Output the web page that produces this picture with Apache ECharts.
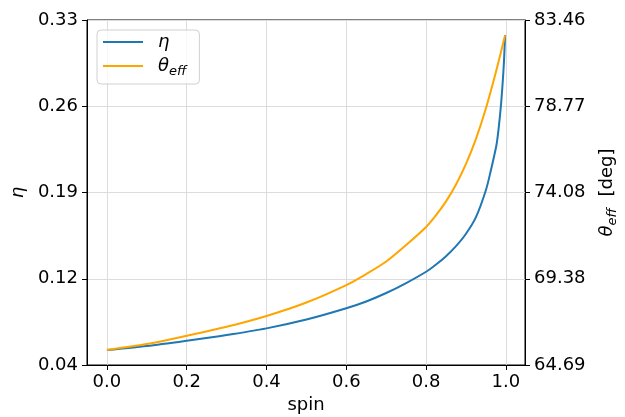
<!DOCTYPE html>
<html>
<head>
<meta charset="utf-8">
<script src="https://cdn.jsdelivr.net/npm/echarts@6/dist/echarts.min.js"></script>
<style>
html,body{margin:0;padding:0;background:#fff;}
#chart{width:625px;height:417px;}
</style>
</head>
<body>
<div id="chart"></div>
<script>
// ---- data ----
const spinEta = [0, 0.1, 0.2, 0.3, 0.4, 0.5, 0.6, 0.65, 0.7, 0.75, 0.8, 0.825, 0.85, 0.875, 0.9, 0.925, 0.95, 0.963, 0.97, 0.977, 0.982, 0.987, 0.991, 0.995, 0.998];
const eta = [0.0526, 0.0560, 0.0604, 0.0652, 0.0708, 0.0782, 0.0877, 0.0934, 0.1005, 0.1089, 0.1184, 0.1245, 0.1315, 0.1399, 0.1503, 0.1643, 0.1871, 0.2045, 0.2148, 0.2262, 0.2394, 0.2560, 0.2728, 0.2939, 0.3174];
const spinTheta = [0, 0.1, 0.2, 0.3, 0.4, 0.5, 0.6, 0.65, 0.7, 0.75, 0.8, 0.825, 0.85, 0.875, 0.9, 0.925, 0.95, 0.975, 0.998];
const thetaEff = [65.51, 65.83, 66.28, 66.77, 67.36, 68.09, 69.04, 69.64, 70.32, 71.22, 72.20, 72.84, 73.59, 74.51, 75.63, 76.99, 78.66, 80.63, 82.63];

const xTickValues = [0, 0.2, 0.4, 0.6, 0.8, 1.0];
const xTickLabels = ['0.0', '0.2', '0.4', '0.6', '0.8', '1.0'];
const etaTickValues = [0.04, 0.1125, 0.185, 0.2575, 0.33];
const etaTickLabels = ['0.04', '0.12', '0.19', '0.26', '0.33'];
const thetaTickValues = [64.69, 69.3825, 74.075, 78.7675, 83.46];
const thetaTickLabels = ['64.69', '69.38', '74.08', '78.77', '83.46'];

const FONT = 'DejaVu Sans';
function labelFor(values, labels) {
  return function (v) {
    let best = 0, bd = Infinity;
    values.forEach((t, i) => { const d = Math.abs(t - v); if (d < bd) { bd = d; best = i; } });
    return labels[best];
  };
}

const chart = echarts.init(document.getElementById('chart'), null, {renderer: 'canvas'});
const option = {
  animation: false,
  backgroundColor: '#fff',
  grid: {
    left: 87, right: 100, top: 20, bottom: 52,
    containLabel: false, outerBoundsMode: 'none',
    show: true, borderColor: '#000', borderWidth: 1, backgroundColor: 'transparent'
  },
  legend: {
    left: 97, top: 30, orient: 'vertical',
    padding: [3, 13, 6, 6], itemGap: 6,
    itemWidth: 40, itemHeight: 2,
    backgroundColor: 'rgba(255,255,255,0.8)',
    borderColor: '#d0d0d0', borderWidth: 1, borderRadius: 4,
    icon: 'rect',
    data: ['η', 'θ_eff'],
    formatter: function (name) {
      return name === 'η' ? '{m|η}' : '{m|θ}{s|eff}';
    },
    textStyle: {
      fontFamily: FONT, fontSize: 18, color: '#000',
      rich: {
        m: {fontFamily: FONT, fontSize: 18, fontStyle: 'italic', lineHeight: 24, padding: [0, 0, 0, 10], color: '#000'},
        s: {fontFamily: FONT, fontSize: 13, fontStyle: 'italic', lineHeight: 13, verticalAlign: 'bottom', color: '#000'}
      }
    }
  },
  xAxis: {
    type: 'value', min: -0.0499, max: 1.0479,
    name: 'spin', nameLocation: 'middle', nameGap: 31,
    nameTextStyle: {fontFamily: FONT, fontSize: 18, color: '#000'},
    axisLine: {show: true, onZero: false, lineStyle: {color: '#000', width: 1}},
    axisTick: {show: true, length: 5, lineStyle: {color: '#000'}, customValues: xTickValues},
    axisLabel: {fontFamily: FONT, fontSize: 18, color: '#000', margin: 8, customValues: xTickValues,
      formatter: labelFor(xTickValues, xTickLabels)},
    splitLine: {show: true, lineStyle: {color: '#dcdcdc', width: 1}}
  },
  yAxis: [
    {
      type: 'value', min: 0.04, max: 0.33, position: 'left',
      name: 'η', nameLocation: 'middle', nameGap: 60, nameRotate: 90,
      nameTextStyle: {fontFamily: FONT, fontSize: 18, fontStyle: 'italic', color: '#000'},
      axisLine: {show: true, onZero: false, lineStyle: {color: '#000'}},
      axisTick: {show: true, length: 5, lineStyle: {color: '#000'}, customValues: etaTickValues},
      axisLabel: {fontFamily: FONT, fontSize: 18, color: '#000', margin: 9, customValues: etaTickValues,
        formatter: labelFor(etaTickValues, etaTickLabels)},
      splitLine: {show: true, lineStyle: {color: '#dcdcdc', width: 1}}
    },
    {
      type: 'value', min: 64.69, max: 83.46, position: 'right',
      name: '{m|θ}{s|eff}{n|  [deg]}', nameLocation: 'middle', nameGap: 70, nameRotate: 90,
      nameTextStyle: {fontFamily: FONT, fontSize: 18, color: '#000',
        rich: {
          m: {fontFamily: FONT, fontSize: 18, fontStyle: 'italic', lineHeight: 24, color: '#000'},
          s: {fontFamily: FONT, fontSize: 13, fontStyle: 'italic', lineHeight: 13, verticalAlign: 'bottom', color: '#000'},
          n: {fontFamily: FONT, fontSize: 18, lineHeight: 24, color: '#000'}
        }},
      axisLine: {show: true, onZero: false, lineStyle: {color: '#000'}},
      axisTick: {show: true, length: 5, lineStyle: {color: '#000'}, customValues: thetaTickValues},
      axisLabel: {fontFamily: FONT, fontSize: 18, color: '#000', margin: 9, customValues: thetaTickValues,
        formatter: labelFor(thetaTickValues, thetaTickLabels)},
      splitLine: {show: false}
    }
  ],
  series: [
    {
      name: 'η', type: 'line', yAxisIndex: 0,
      data: spinEta.map((s, i) => [s, eta[i]]),
      symbol: 'none', showSymbol: false, smooth: 0.3,
      lineStyle: {color: '#1f77b4', width: 2}, itemStyle: {color: '#1f77b4'}
    },
    {
      name: 'θ_eff', type: 'line', yAxisIndex: 1,
      data: spinTheta.map((s, i) => [s, thetaEff[i]]),
      symbol: 'none', showSymbol: false, smooth: 0.3,
      lineStyle: {color: '#ffa500', width: 2}, itemStyle: {color: '#ffa500'}
    }
  ]
};
chart.setOption(option);
</script>
</body>
</html>
